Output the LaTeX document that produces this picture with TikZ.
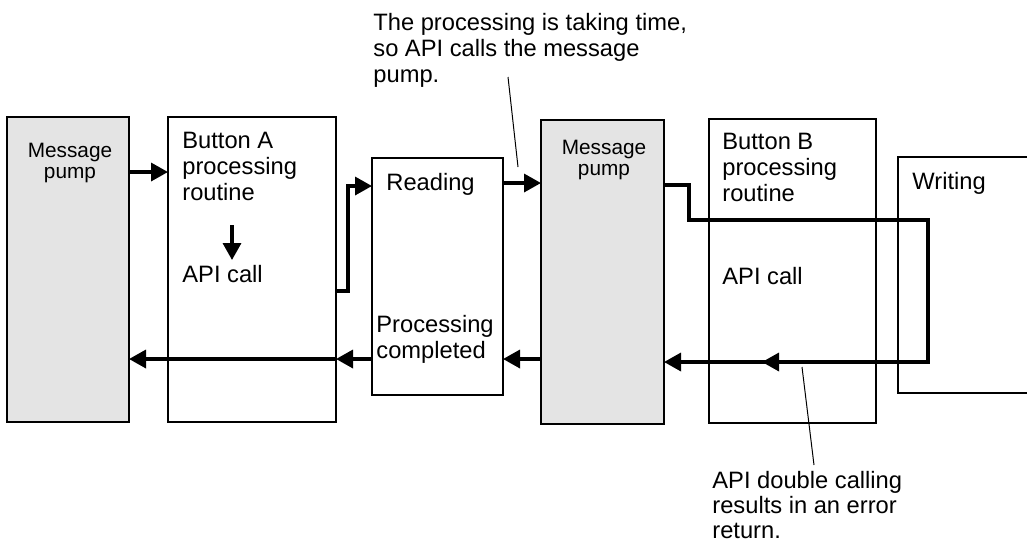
\documentclass[tikz,border=0pt]{standalone}
\usepackage{fontspec}
\setmainfont{Liberation Sans}
\usetikzlibrary{arrows.meta, calc}
\definecolor{pGray}{HTML}{E4E4E4}

\begin{document}
\begin{tikzpicture}[
  x=0.5pt, y=-0.5pt,
  blk/.style 2 args={draw, line width=1.1pt, minimum width=#1*0.5pt,
              minimum height=#2*0.5pt, inner sep=0, outer sep=0},
  pump/.style={fill=pGray},
  lbl/.style={font=\fontsize{11.85pt}{13pt}\selectfont, align=left, inner sep=0},
  pumplbl/.style={font=\fontsize{10.4pt}{10.5pt}\selectfont, align=center, inner sep=0},
  note/.style={lbl, font=\fontsize{11.85pt}{12.6pt}\selectfont},
  conn/.style={line width=1.7pt, -{Triangle[length=8.5pt, width=9pt]}},
  callout/.style={line width=0.5pt},
]
  \clip (0,0) rectangle (1027,543);
  \fill[white] (0,0) rectangle (1027,543);

  % Boxes
  \node[pump, blk={122}{305}] (pumpL) at (68,269.5) {};
  \node[blk={168}{305}] (btnA) at (252,269.5) {};
  \node[blk={131}{237}] (reading) at (437.5,276.5) {};
  \node[pump, blk={123}{304}] (pumpM) at (602.5,272) {};
  \node[blk={167}{304}] (btnB) at (792.5,271) {};
  \node[blk={170}{236}] (writing) at (983,275) {};

  % Box texts
  \node[pumplbl, anchor=north] (pumpLtxt) at (70,143) {Message\\pump};
  \node[lbl, anchor=north west] (btnAtxt) at (182,132) {Button A\\processing\\routine};
  \node[lbl, anchor=north west] (apiA) at (182,265) {API call};
  \node[lbl, anchor=north west] (readtxt) at (386,173) {Reading};
  \node[lbl, anchor=north west] (donetxt) at (376,315) {Processing\\completed};
  \node[pumplbl, anchor=north] (pumpMtxt) at (604,140) {Message\\pump};
  \node[lbl, anchor=north west] (btnBtxt) at (722,133) {Button B\\processing\\routine};
  \node[lbl, anchor=north west] (apiB) at (722,267) {API call};
  \node[lbl, anchor=north west] (writetxt) at (912,172) {Writing};

  % Notes
  \node[lbl, anchor=north west] (noteTop) at (373,13)
    {The processing is taking time,\\so API calls the message\\pump.};
  \node[note, anchor=north west] (noteBot) at (712,471)
    {API double calling\\results in an error\\return.};
  \coordinate (topFrom) at (508,77);
  \coordinate (topTo) at (518,167);
  \coordinate (botFrom) at (802,367);
  \coordinate (botTo) at (814,465);
  \draw[callout] (topFrom) -- (topTo);
  \draw[callout] (botFrom) -- (botTo);

  % Forward calls
  \draw[conn] (pumpL.east |- 0,172) -- (btnA.west |- 0,172);
  \coordinate (dnA) at (232,225);
  \draw[conn, shorten >=2.5pt] (dnA) -- (dnA |- apiA.north);
  \coordinate (jogA) at (348,186);
  \draw[conn] (btnA.east |- 0,291) -| (jogA) -- (reading.west |- jogA);
  \draw[conn] (reading.east |- 0,183) -- (pumpM.west |- 0,183);
  \coordinate (jogB) at (689,220);
  \coordinate (turnB) at (928,362);
  \coordinate (midB) at (762,362);
  \draw[conn] (pumpM.east |- 0,185) -| (jogB) -| (turnB) -- (pumpM.east |- turnB);
  \draw[conn] (turnB) -- (midB);

  % Returns
  \draw[conn] (pumpM.west |- 0,359) -- (reading.east |- 0,359);
  \draw[conn] (reading.west |- 0,359) -- (btnA.east |- 0,359);
  \draw[conn] (btnA.east |- 0,359) -- (pumpL.east |- 0,359);
\end{tikzpicture}
\end{document}
